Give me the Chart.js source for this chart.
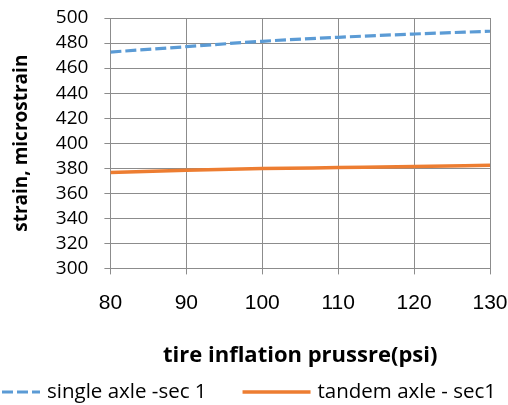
<!DOCTYPE html>
<html lang="en">
<head>
    <meta charset="UTF-8">
    <title>Strain vs tire inflation pressure</title>
    <script src="https://cdn.jsdelivr.net/npm/chart.js"></script>
    <style>
        html, body { margin: 0; padding: 0; background: #fff; }
        #chart { display: block; }
    </style>
</head>
<body>
    <canvas id="chart" width="508" height="405"></canvas>
    <script>
        // values
        const pressures = [80, 90, 100, 110, 120, 130];
        const singleAxle = [472.8, 477.1, 481.4, 484.6, 487.2, 489.4];
        const tandemAxle = [376.5, 378.4, 379.7, 380.5, 381.3, 382.4];
        const seriesNames = ["single axle -sec 1", "tandem axle - sec1"];
        const seriesColors = ["#5B9BD5", "#ED7D31"];

        const toPoints = (xs, ys) => xs.map((x, i) => ({ x: x, y: ys[i] }));

        // legend drawn under the chart, Excel style (line sample + text)
        const bottomLegend = {
            id: "bottomLegend",
            afterDraw(chart) {
                const ctx = chart.ctx;
                const sets = chart.data.datasets;
                const lineLen = 68, gapText = 7, gapItem = 36;
                ctx.save();
                ctx.font = "20.5px 'Open Sans'";
                ctx.textBaseline = "middle";
                let x = -28;   // first sample runs off the left edge, as in the original
                const y = 392;
                sets.forEach((d) => {
                    ctx.beginPath();
                    ctx.strokeStyle = d.borderColor;
                    ctx.lineWidth = d.borderWidth;
                    ctx.setLineDash(d.borderDash || []);
                    ctx.moveTo(x, y);
                    ctx.lineTo(x + lineLen, y);
                    ctx.stroke();
                    ctx.setLineDash([]);
                    ctx.fillStyle = "#000";
                    ctx.fillText(d.label, x + lineLen + gapText, y);
                    x += lineLen + gapText + ctx.measureText(d.label).width + gapItem;
                });
                ctx.restore();
            }
        };

        new Chart(document.getElementById("chart"), {
            type: "line",
            data: {
                datasets: [
                    {
                        label: seriesNames[0],
                        data: toPoints(pressures, singleAxle),
                        borderColor: seriesColors[0],
                        borderWidth: 3.2,
                        borderDash: [11, 4],
                        pointRadius: 0,
                        cubicInterpolationMode: "monotone"
                    },
                    {
                        label: seriesNames[1],
                        data: toPoints(pressures, tandemAxle),
                        borderColor: seriesColors[1],
                        borderWidth: 3.5,
                        pointRadius: 0,
                        cubicInterpolationMode: "monotone"
                    }
                ]
            },
            options: {
                responsive: false,
                animation: false,
                layout: { padding: { top: 18, right: 18, bottom: 36, left: 0 } },
                plugins: {
                    legend: { display: false },
                    tooltip: { enabled: false }
                },
                scales: {
                    x: {
                        type: "linear",
                        min: 80,
                        max: 130,
                        // the end labels may hang past the plot edge, like in Excel
                        afterFit(scale) { scale.paddingLeft = 0; scale.paddingRight = 0; },
                        ticks: {
                            stepSize: 10,
                            autoSkip: false,
                            maxRotation: 0,
                            color: "#000",
                            padding: 16,
                            font: { family: "'Liberation Sans'", size: 21 }
                        },
                        grid: { color: "#8c8c8c", tickLength: 6 },
                        border: { color: "#8c8c8c" },
                        title: {
                            display: true,
                            text: "tire inflation prussre(psi)",
                            color: "#000",
                            padding: { top: 11, bottom: 0 },
                            font: { family: "'Open Sans'", size: 22, weight: "bold" }
                        }
                    },
                    y: {
                        min: 300,
                        max: 500,
                        afterFit(scale) { scale.paddingTop = 0; scale.paddingBottom = 0; },
                        ticks: {
                            stepSize: 20,
                            autoSkip: false,
                            color: "#000",
                            padding: 16,
                            font: { family: "'Open Sans'", size: 19 }
                        },
                        grid: { color: "#8c8c8c", tickLength: 6 },
                        border: { color: "#8c8c8c" },
                        title: {
                            display: true,
                            text: "strain, microstrain",
                            color: "#000",
                            padding: { top: 10, bottom: 7 },
                            font: { family: "'Open Sans'", size: 19, weight: "bold" }
                        }
                    }
                }
            },
            plugins: [bottomLegend]
        });
    </script>
</body>
</html>
